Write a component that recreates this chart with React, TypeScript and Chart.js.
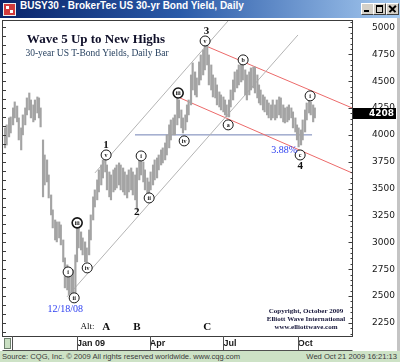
import React, { useEffect, useRef } from "react";
import { Chart, registerables } from "chart.js";
Chart.register(...registerables);

// Daily bars, [days since 2008-10-01, low, high], yield x 1000
const dailyBars: [number, number, number][] = [
  [3,3879,4065],[5,3906,4093],[8,3981,4158],[10,4018,4167],[13,4093,4251],[15,4158,4307],[18,4121,4269],[20,3953,4158],[23,3860,4065],[25,4000,4186],
  [28,4093,4251],[30,4186,4344],[33,4232,4390],[35,4158,4325],[38,4121,4279],[40,4139,4325],[43,4204,4353],[45,4158,4344],[47,4074,4251],[50,3423,3953],
  [52,3534,3813],[55,3562,3767],[57,3413,3627],[60,3255,3441],[62,3134,3302],[65,3022,3208],[67,3004,3190],[70,3041,3190],[72,2976,3162],[75,2818,3022],
  [77,2576,2855],[80,2557,2790],[82,2510,2743],[85,2492,2697],[87,2529,2743],[90,2510,2883],[92,2818,3134],[94,2948,3134],[97,2929,3097],[99,2883,3041],
  [102,2818,3004],[104,2818,2948],[107,2883,3115],[109,3022,3255],[112,3208,3423],[114,3329,3488],[117,3395,3581],[119,3469,3674],[122,3534,3720],[124,3599,3767],
  [127,3655,3785],[129,3488,3720],[132,3423,3655],[134,3395,3627],[137,3469,3674],[139,3488,3692],[141,3506,3720],[144,3534,3739],[146,3488,3720],[149,3469,3692],
  [151,3441,3655],[154,3413,3627],[156,3469,3674],[159,3488,3692],[161,3441,3655],[164,3395,3627],[166,3302,3692],[169,3581,3785],[171,3627,3813],[174,3562,3748],
  [176,3488,3674],[179,3460,3599],[181,3423,3562],[183,3488,3655],[186,3534,3720],[188,3581,3767],[191,3599,3785],[193,3674,3813],[196,3720,3860],[198,3739,3879],
  [201,3767,3925],[203,3813,4000],[206,3879,4093],[208,3953,4139],[211,4000,4158],[213,4000,4186],[216,4093,4344],[218,4158,4325],[221,4065,4232],[223,4018,4158],
  [226,4046,4186],[228,4121,4279],[230,4186,4325],[233,4279,4558],[235,4418,4670],[238,4372,4586],[240,4353,4530],[243,4465,4679],[245,4511,4744],[248,4558,4791],
  [250,4605,4837],[253,4651,4856],[255,4465,4744],[258,4418,4651],[260,4353,4558],[263,4344,4530],[265,4279,4465],[268,4260,4400],[270,4232,4372],[273,4214,4353],
  [275,4186,4325],[277,4167,4279],[280,4167,4325],[282,4260,4418],[285,4325,4511],[287,4400,4586],[290,4437,4605],[292,4465,4651],[295,4493,4679],[297,4511,4698],
  [300,4372,4605],[302,4325,4558],[305,4372,4586],[307,4418,4623],[310,4437,4632],[312,4390,4632],[315,4344,4558],[317,4297,4465],[319,4279,4418],[322,4232,4372],
  [324,4214,4353],[327,4186,4325],[329,4158,4297],[332,4139,4279],[334,4158,4325],[337,4139,4279],[339,4158,4325],[342,4186,4353],[344,4158,4344],[347,4121,4279],
  [349,4111,4251],[352,4121,4260],[354,4139,4279],[357,4158,4251],[359,4065,4214],[362,4027,4158],[364,3953,4093],[366,3888,4065],[369,3906,4046],[371,3953,4139],
  [374,4027,4232],[376,4139,4297],[379,4204,4325],[381,4186,4307],[384,4121,4279],[386,4158,4251],
];

const yTicks = [2250, 2500, 2750, 3000, 3250, 3500, 3750, 4000, 4250, 4500, 4750, 5000];
const xTickDays = [92, 182, 273, 365];
const xTickLabels = ["Jan 09", "Apr", "Jul", "Oct"];
const lastValue = 4208;

// trend lines: [day, value] end points
const grayLower: [number, number][] = [[79.6, 2492], [365.2, 4930]];
const grayUpper: [number, number][] = [[114.2, 3646], [284, 5106]];
const redUpper: [number, number][] = [[254, 4819], [432, 4251]];
const redLower: [number, number][] = [[219.3, 4344], [432, 3646]];
const supportLine: [number, number][] = [[163.7, 4000], [382.6, 4000]];

const waveNumbers: [string, number, number][] = [["1", 128, 3906], ["2", 166, 3283], ["3", 252, 4967], ["4", 368, 3711]];
const altWaves: [string, number, number][] = [["A", 128, 2213], ["B", 166, 2213], ["C", 253, 2213]];
const altCaption: [string, number, number] = ["Alt:", 105, 2213];
const circledWaves: [string, number, number][] = [
  ["i", 81, 2724], ["ii", 88.5, 2483], ["iii", 92.2, 3181], ["iv", 104.6, 2762], ["v", 128, 3813],
  ["i", 171.3, 3804], ["ii", 181.2, 3413], ["iii", 217.1, 4390], ["iv", 224.5, 3944], ["v", 250.4, 4874],
  ["a", 278.9, 4093], ["b", 297.4, 4698], ["c", 367.9, 3813], ["i", 380.2, 4363],
];
const notes: [string, number, number][] = [["12/18/08", 77.4, 2375], ["3.88%", 348, 3860]];
const headline = "Wave 5 Up to New Highs";
const subhead = "30-year US T-Bond Yields, Daily Bar";
const copyright = ["Copyright, October 2009", "Elliott Wave International", "www.elliottwave.com"];

const SERIF = '"Liberation Serif", "Times New Roman", serif';
const SANS = '"Liberation Sans", Arial, sans-serif';
const DEJAVU = '"DejaVu Sans", Verdana, sans-serif';

const toXY = (pts: [number, number][]) => pts.map(([x, y]) => ({ x, y }));

const noScalePadding = (s: any) => {
  s.paddingTop = 0;
  s.paddingBottom = 0;
  s.paddingLeft = 0;
  s.paddingRight = 0;
};

const overlay = {
  id: "overlay",
  beforeDatasetsDraw(chart: any) {
    const ctx = chart.ctx;
    const { left, top } = chart.chartArea;
    ctx.save();
    ctx.textAlign = "center";
    ctx.textBaseline = "middle";
    ctx.fillStyle = "#10102a";
    ctx.font = `bold 13px ${SERIF}`;
    ctx.fillText(headline, left + 93, top + 19);
    ctx.fillStyle = "#1f3a5a";
    ctx.font = `9.5px ${SERIF}`;
    ctx.fillText(subhead, left + 94, top + 32);
    ctx.restore();
  },
  afterDatasetsDraw(chart: any) {
    const ctx = chart.ctx;
    const xs = chart.scales.x;
    const ys = chart.scales.y;
    const { right, bottom } = chart.chartArea;
    ctx.save();
    ctx.textAlign = "center";
    ctx.textBaseline = "middle";
    for (const [t, d, v] of circledWaves) {
      const x = xs.getPixelForValue(d);
      const y = ys.getPixelForValue(v);
      ctx.beginPath();
      ctx.arc(x, y, 5, 0, Math.PI * 2);
      ctx.fillStyle = "#ffffff";
      ctx.fill();
      ctx.lineWidth = t === "iii" ? 1.6 : 1;
      ctx.strokeStyle = "#151515";
      ctx.stroke();
      ctx.fillStyle = "#101010";
      ctx.font = `bold 6px ${SERIF}`;
      ctx.fillText(t, x, y + 0.5);
    }
    ctx.fillStyle = "#101010";
    ctx.font = `bold 11px ${SERIF}`;
    for (const [t, d, v] of waveNumbers) ctx.fillText(t, xs.getPixelForValue(d), ys.getPixelForValue(v));
    for (const [t, d, v] of altWaves) ctx.fillText(t, xs.getPixelForValue(d), ys.getPixelForValue(v));
    ctx.font = `9px ${SERIF}`;
    ctx.fillText(altCaption[0], xs.getPixelForValue(altCaption[1]), ys.getPixelForValue(altCaption[2]));
    ctx.fillStyle = "#2a3cf0";
    ctx.font = `10px ${SERIF}`;
    for (const [t, d, v] of notes) ctx.fillText(t, xs.getPixelForValue(d), ys.getPixelForValue(v));
    ctx.fillStyle = "#15153a";
    ctx.font = `bold 7px ${SERIF}`;
    copyright.forEach((t, i) => ctx.fillText(t, right - 46, bottom - 25 + i * 8));
    ctx.restore();
  },
  afterDraw(chart: any) {
    const ctx = chart.ctx;
    const xs = chart.scales.x;
    const ys = chart.scales.y;
    const { left, right, top, bottom } = chart.chartArea;
    ctx.save();
    ctx.strokeStyle = "#3c3c3c";
    ctx.lineWidth = 1;
    ctx.strokeRect(left - 0.5, top - 0.5, right - left + 1, bottom - top + 1);
    ctx.beginPath();
    for (let v = 2150; v <= 5050; v += 50) {
      if (v < ys.min || v > ys.max) continue;
      const y = Math.round(ys.getPixelForValue(v)) + 0.5;
      const len = v % 250 === 0 ? 4 : 2;
      ctx.moveTo(right + 0.5, y);
      ctx.lineTo(right + 0.5 - len, y);
    }
    for (let k = 0; k < 40; k++) {
      const v = 5000 - (k * 250) / 3;
      if (v < ys.min) break;
      const y = Math.round(ys.getPixelForValue(v)) + 0.5;
      ctx.moveTo(left - 0.5, y);
      ctx.lineTo(left + 3, y);
    }
    ctx.stroke();
    const stripBottom = bottom + 14.5;
    ctx.strokeStyle = "#505050";
    ctx.beginPath();
    ctx.moveTo(left - 0.5, stripBottom);
    ctx.lineTo(right + 0.5, stripBottom);
    for (const d of xTickDays) {
      const x = Math.round(xs.getPixelForValue(d)) + 0.5;
      ctx.moveTo(x, bottom);
      ctx.lineTo(x, stripBottom);
    }
    ctx.moveTo(left + 9.5, bottom);
    ctx.lineTo(left + 9.5, stripBottom);
    ctx.stroke();
    ctx.fillStyle = "#c9dfc2";
    ctx.fillRect(left + 1, bottom + 2, 7, 11);
    ctx.strokeStyle = "#6d806d";
    ctx.strokeRect(left + 1.5, bottom + 2.5, 6, 10);
    const py = ys.getPixelForValue(lastValue);
    ctx.fillStyle = "#000000";
    ctx.fillRect(right + 1, Math.round(py) - 5, 43, 11);
    ctx.fillStyle = "#ffffff";
    ctx.font = `bold 9px ${DEJAVU}`;
    ctx.textAlign = "right";
    ctx.textBaseline = "middle";
    ctx.fillText(String(lastValue), right + 42, Math.round(py) + 0.5);
    ctx.restore();
  },
};

function PriceChart() {
  const ref = useRef<HTMLCanvasElement | null>(null);
  useEffect(() => {
    if (!ref.current) return;
    const lineDs = (pts: [number, number][], color: string) => ({
      type: "line" as const,
      data: toXY(pts),
      borderColor: color,
      borderWidth: 1,
      pointRadius: 0,
      fill: false,
      tension: 0,
      clip: 0,
      order: 2,
    });
    const chart = new Chart(ref.current, {
      type: "bar",
      data: {
        datasets: [
          {
            type: "bar",
            data: dailyBars.map(([d, lo, hi]) => ({ x: d, y: [lo, hi] })) as any,
            backgroundColor: "#a4a4a4",
            barThickness: 1.5,
            order: 1,
          } as any,
          lineDs(grayLower, "#b4b4b4"),
          lineDs(grayUpper, "#b4b4b4"),
          lineDs(redUpper, "#ec6a6a"),
          lineDs(redLower, "#ec6a6a"),
          lineDs(supportLine, "#7080b4"),
        ],
      },
      options: {
        animation: false,
        responsive: false,
        maintainAspectRatio: false,
        layout: { padding: { left: 3, top: 3, right: 0, bottom: 0 } },
        plugins: { legend: { display: false }, tooltip: { enabled: false } },
        scales: {
          x: {
            type: "linear",
            min: 0.5,
            max: 432,
            offset: false,
            grid: { display: false, drawTicks: false },
            border: { display: false },
            afterBuildTicks: (s: any) => {
              s.ticks = xTickDays.map((value) => ({ value }));
            },
            afterFit: (s: any) => {
              s.height = 15;
              noScalePadding(s);
            },
            ticks: {
              autoSkip: false,
              maxRotation: 0,
              align: "start",
              padding: 2,
              color: "#1a1a1a",
              font: { family: SANS, size: 9, weight: "bold" },
              callback: (v: any) => {
                const i = xTickDays.indexOf(Number(v));
                return i >= 0 ? xTickLabels[i] : "";
              },
            },
          },
          y: {
            type: "linear",
            position: "right",
            min: 2128,
            max: 5060,
            grid: { display: false, drawTicks: false },
            border: { display: false },
            afterBuildTicks: (s: any) => {
              s.ticks = yTicks.map((value) => ({ value }));
            },
            afterFit: (s: any) => {
              s.width = 48;
              noScalePadding(s);
            },
            ticks: {
              padding: 20,
              color: "#151515",
              font: { family: DEJAVU, size: 9 },
              callback: (v: any) => String(v),
            },
          },
        },
      },
      plugins: [overlay],
    });
    return () => chart.destroy();
  }, []);
  return <canvas ref={ref} width={400} height={333} style={{ display: "block", width: 400, height: 333 }} />;
}

const btn: React.CSSProperties = {
  position: "absolute",
  top: 3,
  width: 11,
  height: 10,
  background: "#d4d0c8",
  borderTop: "1px solid #ffffff",
  borderLeft: "1px solid #ffffff",
  borderRight: "1px solid #404040",
  borderBottom: "1px solid #404040",
};

export default function App() {
  return (
    <div style={{ position: "fixed", left: 0, top: 0, width: 400, height: 362, background: "#ffffff", overflow: "hidden" }}>
      <div
        style={{
          position: "absolute",
          left: 0,
          top: 0,
          width: 400,
          height: 18,
          background: "linear-gradient(90deg, #0a246a 0%, #2a5aa8 45%, #a6caf0 100%)",
        }}
      >
        <div style={{ position: "absolute", left: 3, top: 3, width: 11, height: 11, background: "#d23b3b", border: "1px solid #f0f0f0" }}>
          <div style={{ position: "absolute", left: 2, top: 2, width: 3, height: 3, background: "#fff" }} />
          <div style={{ position: "absolute", left: 6, top: 6, width: 3, height: 3, background: "#fff" }} />
        </div>
        <div
          style={{
            position: "absolute",
            left: 20,
            top: 0,
            height: 18,
            lineHeight: "18px",
            color: "#ffffff",
            font: `bold 10px ${SANS}`,
            whiteSpace: "nowrap",
          }}
        >
          BUSY30 - BrokerTec US 30-yr Bond Yield, Daily
        </div>
        <div style={{ ...btn, left: 361 }}>
          <div style={{ position: "absolute", left: 2, top: 6, width: 5, height: 2, background: "#000" }} />
        </div>
        <div style={{ ...btn, left: 373 }}>
          <div style={{ position: "absolute", left: 2, top: 1, width: 5, height: 5, border: "1px solid #000", borderTopWidth: 2 }} />
        </div>
        <div style={{ ...btn, left: 386 }}>
          <div style={{ position: "absolute", left: 1, top: 4, width: 9, height: 1.5, background: "#000", transform: "rotate(45deg)" }} />
          <div style={{ position: "absolute", left: 1, top: 4, width: 9, height: 1.5, background: "#000", transform: "rotate(-45deg)" }} />
        </div>
      </div>
      <div style={{ position: "absolute", left: 0, top: 18, width: 400, height: 333 }}>
        <PriceChart />
      </div>
      <div style={{ position: "absolute", right: 0, top: 18, width: 3, height: 333, background: "#c4c4c4" }} />
      <div
        style={{
          position: "absolute",
          left: 0,
          top: 351,
          width: 400,
          height: 11,
          background: "#cde2c6",
          font: `7.6px ${SANS}`,
          color: "#3a3a3a",
          lineHeight: "11px",
        }}
      >
        <span style={{ position: "absolute", left: 2, top: 0, whiteSpace: "nowrap" }}>
          Source: CQG, Inc. © 2009 All rights reserved worldwide. www.cqg.com
        </span>
        <span style={{ position: "absolute", right: 3, top: 0, whiteSpace: "nowrap" }}>Wed Oct 21 2009 16:21:13</span>
      </div>
    </div>
  );
}
